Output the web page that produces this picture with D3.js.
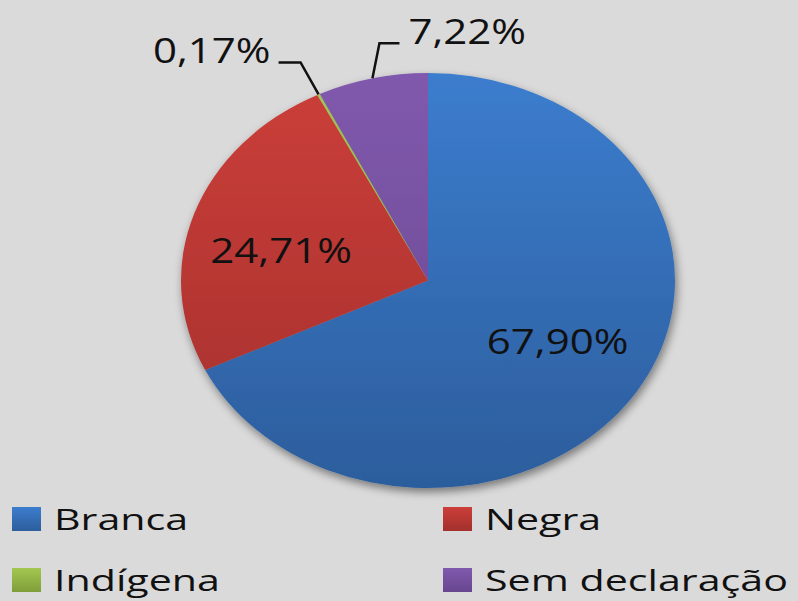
<!DOCTYPE html>
<html><head><meta charset="utf-8">
<script src="https://cdn.jsdelivr.net/npm/d3@7"></script>
<style>
html,body{margin:0;padding:0;background:#dadada;}
svg{display:block;}
text{font-family:"Open Sans",sans-serif;fill:#111;}
</style></head>
<body>
<script>
const categories = ["Branca", "Negra", "Indígena", "Sem declaração"];
const values = [67.90, 24.71, 0.17, 7.22];
const labels = ["67,90%", "24,71%", "0,17%", "7,22%"];
const colorsTop = ["#3c7dce", "#cc3e3a", "#a2c750", "#8059ad"];
const colorsBottom = ["#2c5d9c", "#a3302c", "#7f9e3a", "#68468f"];

const W = 798, H = 601;
const cx = 428, cy = 280.5, rx = 247, ry = 207.5;
const k = ry / rx;

const svg = d3.select("body").append("svg").attr("width", W).attr("height", H);
svg.append("rect").attr("width", W).attr("height", H).attr("fill", "#dadada");

const defs = svg.append("defs");
const f = defs.append("filter").attr("id", "sh").attr("x", "-20%").attr("y", "-20%").attr("width", "140%").attr("height", "140%");
f.append("feDropShadow").attr("dx", 2).attr("dy", 5).attr("stdDeviation", 5).attr("flood-color", "#000").attr("flood-opacity", 0.45);

categories.forEach((c, i) => {
  const g = defs.append("linearGradient").attr("id", "g" + i)
    .attr("gradientUnits", "userSpaceOnUse")
    .attr("x1", 0).attr("y1", -rx).attr("x2", 0).attr("y2", rx);
  g.append("stop").attr("offset", "0%").attr("stop-color", colorsTop[i]);
  g.append("stop").attr("offset", "100%").attr("stop-color", colorsBottom[i]);
});

const pie = d3.pie().sort(null).value(d => d)(values);
const arc = d3.arc().innerRadius(0).outerRadius(rx);
const labelArc = d3.arc().innerRadius(rx * 0.62).outerRadius(rx * 0.62);

const pg = svg.append("g").attr("transform", `translate(${cx},${cy}) scale(1,${k})`);
const slices = pg.append("g").attr("filter", "url(#sh)");
slices.selectAll("path").data(pie).join("path")
  .attr("d", arc)
  .attr("fill", (d, i) => `url(#g${i})`);

// convert a pie-space point to screen
const toScreen = p => [cx + p[0], cy + p[1] * k];

const sx = 1.2;
pie.forEach((d, i) => {
  if (i < 2) {
    const p = toScreen(labelArc.centroid(d));
    const dx = i === 0 ? 0 : -2, dy = i === 0 ? -4 : 15;
    svg.append("text")
      .attr("transform", `translate(${p[0] + dx},${p[1] + dy}) scale(${sx},1)`)
      .attr("text-anchor", "middle").attr("dominant-baseline", "middle")
      .attr("font-size", 35).text(labels[i]);
  } else {
    const mid = (d.startAngle + d.endAngle) / 2;
    const e = toScreen([Math.sin(mid) * rx, -Math.cos(mid) * rx]);
    let pts, tx, anchor;
    if (i === 2) {
      pts = [e, [e[0] - 18, e[1] - 32], [e[0] - 40, e[1] - 32]];
      tx = e[0] - 48; anchor = "end";
    } else {
      pts = [e, [e[0] + 7, e[1] - 35], [e[0] + 27, e[1] - 35]];
      tx = e[0] + 36; anchor = "start";
    }
    svg.append("polyline").attr("points", pts.map(q => q.join(",")).join(" "))
      .attr("fill", "none").attr("stroke", "#111").attr("stroke-width", 2.5);
    svg.append("text")
      .attr("transform", `translate(${tx},${pts[1][1] + 1}) scale(${sx},1)`)
      .attr("text-anchor", anchor)
      .attr("font-size", 35).text(labels[i]);
  }
});

// legend
const lg = svg.append("g");
categories.forEach((c, i) => {
  const col = i % 2, row = Math.floor(i / 2);
  const x = col === 0 ? 12 : 443, y = row === 0 ? 507 : 568;
  const gg = defs.append("linearGradient").attr("id", "lg" + i).attr("x1", 0).attr("y1", 0).attr("x2", 0).attr("y2", 1);
  gg.append("stop").attr("offset", "0%").attr("stop-color", colorsTop[i]);
  gg.append("stop").attr("offset", "100%").attr("stop-color", colorsBottom[i]);
  lg.append("rect").attr("x", x).attr("y", y).attr("width", 29).attr("height", 24)
    .attr("fill", `url(#lg${i})`);
  lg.append("text")
    .attr("transform", `translate(${x + 42},${y + 23}) scale(1.42,1)`)
    .attr("font-size", 29).text(c);
});
</script>
</body></html>
